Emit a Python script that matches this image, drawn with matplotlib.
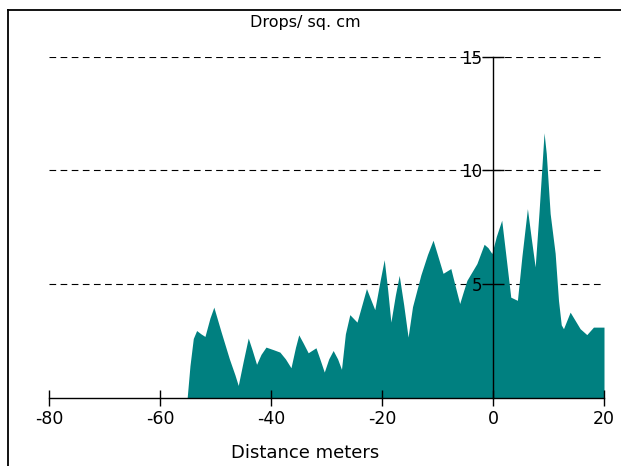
import matplotlib
matplotlib.use("Agg")
import matplotlib.pyplot as plt
from matplotlib.lines import Line2D

# distance (m) and drop density
distance = [-55.1, -54.6, -54.0, -53.4, -52.6, -51.9, -51.0, -50.3, -49.0, -47.5,
            -46.5, -45.9, -45.0, -44.1, -43.4, -42.6, -41.8, -40.9, -39.5, -38.4,
            -37.4, -36.4, -35.6, -35.0, -34.2, -33.3, -31.9, -31.2, -30.4, -29.6,
            -28.8, -28.0, -27.3, -26.6, -25.8, -24.5, -23.6, -22.8, -22.0, -21.3,
            -20.3, -19.6, -19.0, -18.4, -17.6, -16.9, -16.1, -15.3, -14.5, -13.0,
            -11.8, -10.8, -9.9, -9.0, -7.6, -6.8, -6.0, -5.3, -4.7, -2.9,
            -1.6, -0.9, -0.2, 0.6, 1.57, 2.3, 3.2, 4.4, 5.2, 6.2,
            6.9, 7.6, 8.3, 9.2, 9.6, 10.3, 11.2, 11.8, 12.3, 12.7,
            13.9, 15.7, 16.9, 18.1, 20.0]
drops = [0.0, 1.4, 2.6, 2.95, 2.8, 2.69, 3.5, 3.98, 2.9, 1.7,
         1.0, 0.53, 1.6, 2.62, 2.1, 1.46, 1.9, 2.22, 2.1, 2.0,
         1.7, 1.31, 2.2, 2.76, 2.4, 1.97, 2.19, 1.7, 1.12, 1.7,
         2.07, 1.7, 1.24, 2.8, 3.65, 3.32, 4.1, 4.8, 4.3, 3.87,
         5.2, 6.07, 4.8, 3.32, 4.5, 5.38, 4.1, 2.66, 4.0, 5.4,
         6.3, 6.93, 6.2, 5.47, 5.68, 4.9, 4.14, 4.7, 5.16, 5.9,
         6.75, 6.6, 6.34, 7.1, 7.81, 6.3, 4.42, 4.28, 6.2, 8.32,
         7.0, 5.75, 8.2, 11.66, 10.75, 8.1, 6.35, 4.28, 3.2, 3.03,
         3.76, 3.03, 2.77, 3.1, 3.1]

xticks = [-80, -60, -40, -20, 0, 20]
yticks = [5, 10, 15]

W, H = 621, 466
fig = plt.figure(figsize=(W / 100, H / 100), dpi=100)
ax = fig.add_axes([49 / W, 1 - 397.5 / H, 555 / W, 340.5 / H])
ax.set_xlim(-80, 20)
ax.set_ylim(0, 15)

# dashed guide lines under the fill
ax.hlines(yticks, -80, 20, colors="black", linewidth=0.8,
          linestyles=(0, (6, 4)), zorder=1)
ax.fill_between(distance, drops, 0, color="#008080", linewidth=0, zorder=2)

for s in ["top", "right"]:
    ax.spines[s].set_visible(False)
ax.spines["left"].set_position(("data", 0))
ax.spines["left"].set_bounds(0, 15)
ax.spines["bottom"].set_linewidth(1.0)
ax.spines["left"].set_linewidth(1.0)
ax.set_axisbelow(False)

ax.set_xticks(xticks)
ax.set_xticklabels([str(v) for v in xticks])
ax.set_yticks(yticks)
ax.set_yticklabels([str(v) for v in yticks])
ax.tick_params(axis="x", direction="inout", length=11.5, width=1.0,
               labelsize=12.5, pad=3)
ax.tick_params(axis="y", direction="inout", length=15.5, width=1.0,
               labelsize=12, pad=0)
for lab in ax.get_yticklabels():
    lab.set_zorder(3)

fig.text(305 / W, 1 - 22 / H, "Drops/ sq. cm", ha="center", va="center", fontsize=11.5)
fig.text(305 / W, 1 - 453 / H, "Distance meters", ha="center", va="center", fontsize=13)

# frame of the panel (left and top edges show)
fig.add_artist(Line2D([8 / W, 1], [1 - 10 / H] * 2, color="black", linewidth=1.3,
                      transform=fig.transFigure))
fig.add_artist(Line2D([8 / W] * 2, [0, 1 - 10 / H], color="black", linewidth=1.3,
                      transform=fig.transFigure))

fig.savefig("out.png", dpi=100)
